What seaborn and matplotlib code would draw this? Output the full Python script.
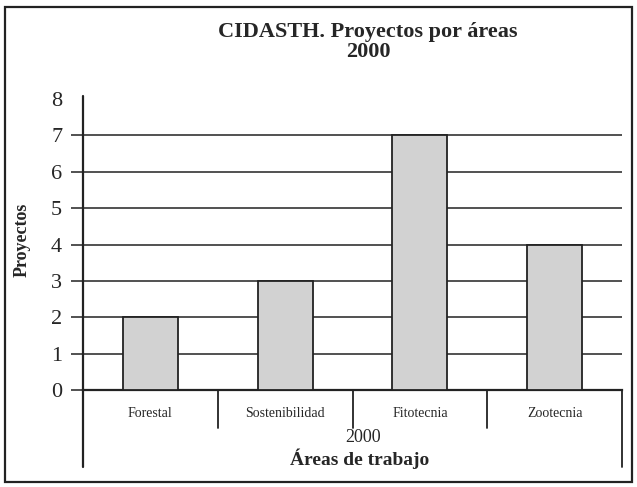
import matplotlib
matplotlib.use('Agg')
import matplotlib.pyplot as plt
import seaborn as sns
import pandas as pd
from matplotlib.patches import Rectangle

# Data
areas = ['Forestal', 'Sostenibilidad', 'Fitotecnia', 'Zootecnia']
proyectos = [2, 3, 7, 4]
year = '2000'

df = pd.DataFrame({'Area': areas, 'Proyectos': proyectos})

sns.set_theme(style='white')
plt.rcParams['font.family'] = ['Liberation Serif', 'DejaVu Serif']

fig = plt.figure(figsize=(6.37, 4.87), dpi=100)
ax = fig.add_axes([83 / 637, 1 - 390 / 487, 539 / 637, 291 / 487])

sns.barplot(data=df, x='Area', y='Proyectos', color='#d2d2d2', width=0.41,
            edgecolor='#222222', linewidth=1.3, saturation=1, ax=ax, zorder=3)

ax.set_xlim(-0.5, 3.5)
ax.set_ylim(0, 8)
ax.set_yticks(range(0, 9))
ax.grid(axis='y', color='#222222', linewidth=1.1, zorder=0)
ax.set_axisbelow(True)
ax.tick_params(axis='y', length=9, width=1.1, color='#222222', labelsize=16, pad=6, left=True)
ax.tick_params(axis='x', length=0, labelsize=10, pad=12)
last = ax.yaxis.get_major_ticks()[-1]
last.tick1line.set_visible(False)
last.gridline.set_visible(False)

for s in ['top', 'right', 'left']:
    ax.spines[s].set_visible(False)
ax.spines['bottom'].set_color('#222222')
ax.spines['bottom'].set_linewidth(1.6)

# y axis line going down past the category row
ax.plot([-0.5, -0.5], [-0.265, 1.01], transform=ax.get_xaxis_transform(),
        color='#222222', lw=1.6, clip_on=False)
# category separators and right edge
for xs in [0.5, 1.5, 2.5]:
    ax.plot([xs, xs], [-0.13, 0], transform=ax.get_xaxis_transform(),
            color='#222222', lw=1.3, clip_on=False)
ax.plot([3.5, 3.5], [-0.265, 0], transform=ax.get_xaxis_transform(),
        color='#222222', lw=1.3, clip_on=False)

ax.set_xlabel('')
ax.set_ylabel('')
fig.text(22 / 637, 1 - 240 / 487, 'Proyectos', rotation=90, ha='center', va='center',
         fontsize=13, fontweight='bold')

fig.text(363 / 637, 1 - 438 / 487, year, ha='center', va='center', fontsize=13)
fig.text(360 / 637, 1 - 459 / 487, 'Áreas de trabajo', ha='center', va='center',
         fontsize=14, fontweight='bold')
fig.text(368 / 637, 1 - 42 / 487, 'CIDASTH. Proyectos por áreas\n2000', ha='center',
         va='center', fontsize=16, fontweight='bold', linespacing=1.05)

# outer frame
fig.add_artist(Rectangle((5 / 637, 5 / 487), 627 / 637, 475 / 487, transform=fig.transFigure,
                         fill=False, edgecolor='#222222', linewidth=1.6))

fig.savefig('out.png', dpi=100)
